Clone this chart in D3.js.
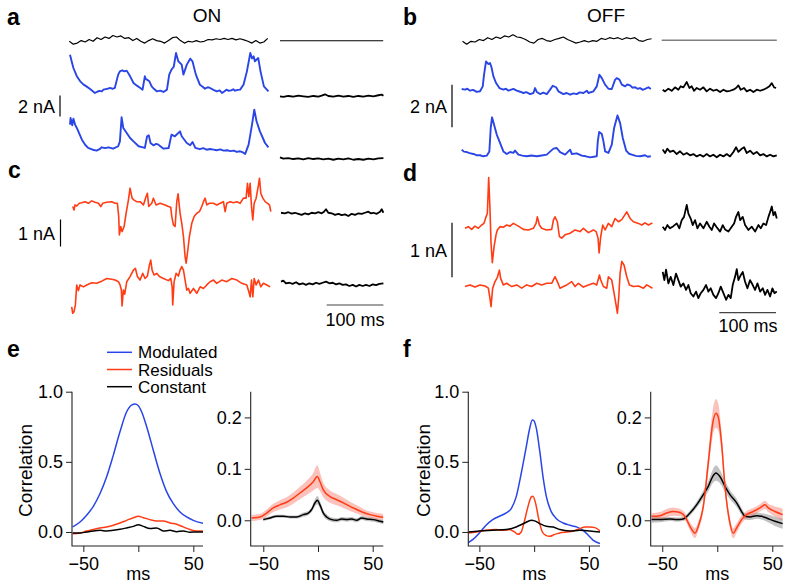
<!DOCTYPE html>
<html><head><meta charset="utf-8">
<script src="https://cdn.jsdelivr.net/npm/d3@7"></script>
<style>body{margin:0;background:#fff}svg{display:block}</style>
</head><body><svg id="c" width="788" height="587"></svg>
<script>
// ---------------- DATA ----------------
// stimulus (arbitrary intensity units), uniformly sampled
const stimA = [0,-0.8,-0.5,0.2,-0.2,0.5,0,1.0,0.5,1.2,0.8,1.6,1.2,1.5,0.8,1.0,0.2,0.8,0,-0.5,0.2,0.7,0.2,0,-0.5,0.2,1.0,1.2,0.2,-0.5,0,-0.2,0.2,-0.2,0,0.5,0.4,0.7,0.5,0.8,0.5,0.8,0.4,0.7,0.4,0,-0.5,0.2,-0.5,-0.2,0.8];
const stimB = [0,-0.8,0,-0.2,0.5,0.2,1.0,0.5,1.2,0.8,1.5,1.2,1.8,1.2,1.0,0.5,-0.2,-0.5,0.5,0.8,0.2,0,0.5,0.8,1.2,0.5,0,-0.5,-0.2,0.2,-0.2,0.2,0,0.8,0.5,1.0,0.7,1.0,0.5,1.0,0.7,1.0,0.2,0,0.5,0.7];
// currents [ms, nA]
const aMod1 = [[0,3.65],[3,3.0],[6,2.38],[12,1.6],[18,1.11],[24,0.8],[29,0.63],[36,0.35],[44,0],[48,0.12],[52,0.2],[56,0.15],[59,0.32],[65,0.4],[71,0.48],[75,0.4],[79,0.48],[85,1.75],[88,2.06],[92,2.16],[96,2.06],[100,2.13],[106,1.59],[112,0.95],[118,0.7],[124,0.48],[128,0.32],[132,1.59],[134,1.3],[136,1.27],[140,1.11],[144,0.63],[148,0.4],[153,0.16],[159,0.22],[165,0.1],[171,0.32],[175,1.75],[179,2.22],[183,2.5],[187,3.81],[191,3.02],[197,2.7],[200,1.75],[206,2.7],[212,3.27],[216,3.02],[222,1.75],[229,0.79],[234,0.6],[238,0.41],[243,0.55],[247,0.48],[253,0.3],[259,0.16],[264,0.25],[268,0],[272,0.15],[276,0.32],[280,0.2],[284,0.25],[288,0.35],[291,0.22],[296,0.3],[300,0.32],[306,0.79],[312,2.06],[318,3.81],[321,3.3],[324,3.49],[326,3.02],[332,3.33],[336,2.06],[342,0.63],[350,0.16]];
const aMod2 = [[0,2.54],[1,3.17],[4,2.48],[6,3.11],[9,2.54],[12,2.22],[21,1.11],[27,0.6],[32,0.32],[40,0.15],[47,0.06],[52,0.2],[56,0.38],[62,0.3],[68,0.38],[76,0.25],[85,0.48],[88,0.95],[91,3.24],[94,2.22],[100,1.75],[106,1.27],[112,0.95],[121,0.48],[127,0.4],[132,0.32],[136,1.43],[139,1.52],[142,0.79],[147,0.57],[152,0.7],[156,0.63],[165,0.25],[174,0.32],[179,1.59],[185,1.43],[194,1.9],[197,1.43],[206,0.79],[212,0.57],[216,0.89],[221,0.32],[229,0.2],[235,0.3],[241,0.15],[247,0.22],[253,0.16],[259,0.1],[265,0.18],[271,0.06],[277,0.1],[283,0.02],[289,0.06],[294,-0.06],[300,0],[305,-0.1],[309,-0.25],[315,0.63],[321,2.54],[325,3.97],[329,2.86],[335,1.9],[344,0.79],[350,0.38]];
const aRes1 = [[0,0],[5.9,-0.06],[14.7,0.03],[23.5,-0.03],[32.4,0.06],[41.2,0],[50,-0.06],[58.8,0.03],[67.6,-0.03],[73.5,0.06],[79.4,0.19],[85.3,0.03],[94.1,-0.03],[102.9,0.06],[111.8,-0.03],[120.6,0.03],[129.4,-0.06],[138.2,0.03],[147.1,-0.03],[155.9,0.06],[164.7,0],[173.5,0.1],[179.4,0.16],[182.4,0.06]];
const aRes2 = [[0,0.13],[5.9,0],[14.7,0.06],[23.5,-0.03],[32.4,0.03],[41.2,-0.06],[50,0.06],[58.8,-0.03],[67.6,0.03],[76.5,-0.06],[85.3,0],[94.1,-0.1],[102.9,0],[111.8,-0.06],[120.6,0.03],[129.4,-0.1],[138.2,-0.03],[147.1,-0.1],[155.9,0],[164.7,-0.06],[173.5,0.03],[182.4,0.06]];
const bMod1 = [[0,0.19],[5.9,0.16],[10,0.2],[14.7,0.11],[20,0.15],[26.5,0.05],[32.4,0.08],[37.1,0.31],[39.4,0.86],[42.9,1.48],[47.1,1.36],[50,1.41],[52.9,1.17],[55.9,0.78],[60.6,0.47],[66.5,0.23],[73.5,0.16],[78,0.2],[82.4,0.11],[91.2,0.19],[97.1,0.11],[103,0.06],[108.8,0],[114,0.04],[120.6,-0.05],[126.5,0],[129.4,0.23],[132.4,0.05],[138.2,-0.05],[144,0.02],[150,-0.05],[155.9,0.16],[160.6,0.34],[166.5,0.27],[170.6,0.08],[179.4,-0.05],[185,0],[191.2,-0.08],[197,-0.02],[202.9,-0.05],[208,0.03],[214.7,0],[220.6,0.11],[223.5,0],[232.4,0.08],[238.2,0.31],[242.9,0.86],[247.1,0.7],[252.9,0.39],[258.8,0.2],[264.7,0.19],[270.6,0.63],[273.5,0.7],[278.2,0.63],[282.4,0.39],[288.2,0.31],[292,0.4],[297.1,0.36],[301,0.25],[305.9,0.27],[310,0.2],[314.7,0.23],[319,0.15],[323.5,0.19],[329.4,0.27],[333.5,0.19]];
const bMod2 = [[0,0.31],[4,0.22],[8.8,0.2],[14,0.15],[20.6,0.11],[26,0.05],[32.4,0.05],[38,0],[44.1,0.03],[48.8,0.23],[51.2,1.33],[53.5,1.83],[57.1,1.48],[61.8,1.02],[67.6,0.63],[73.5,0.23],[79.4,0.11],[85.3,0.2],[91.2,0.16],[94.1,0.27],[100,0.08],[107,0.03],[114.7,0],[123,0.04],[132.4,0],[141,0.04],[150,0.08],[161.8,0.36],[167.6,0.39],[173.5,0.2],[182.4,0.08],[188.2,0.23],[191.2,0.31],[194.1,0.11],[202.9,0.14],[211.8,0.03],[219,0],[226.5,-0.05],[238.2,0],[240,0.7],[242.4,1.14],[247.1,1.05],[250,0.7],[252.9,0.23],[258.8,0.16],[264.7,0.55],[268.8,1.33],[274.7,1.92],[279.4,1.56],[284.1,0.86],[290,0.27],[295,0.12],[300,0.08],[307,0.02],[314.7,0],[323.5,0.05],[328,-0.02],[333.5,0]];
const bRes1 = [[0,0],[4.1,-0.08],[10,0.05],[15.9,-0.05],[21.8,0.11],[27.6,0],[31.8,0.16],[36.5,0.11],[42.4,0.36],[47.1,0.08],[51.2,0.16],[55.3,-0.05],[60,0.08],[65.9,0],[71.8,0.11],[77.6,-0.08],[83.5,0.05],[89.4,-0.05],[95.3,0],[101.2,-0.11],[107.1,0],[112.9,-0.08],[118.8,-0.05],[124.7,0],[129.4,0.08],[133.5,0.2],[137.6,0],[143.5,0.08],[148.2,-0.08],[154.1,0],[160,-0.11],[165.9,0],[171.8,-0.05],[177.6,0],[183.5,0.08],[188.2,0.16],[192.4,0.31],[196.5,0.11],[200,0.08]];
const bRes2 = [[0,0.16],[4.1,0],[8.2,0.2],[12.9,0.05],[18.8,0.11],[24.7,-0.05],[30.6,0.08],[36.5,-0.08],[42.4,0],[48.2,-0.11],[54.1,-0.05],[60,-0.16],[65.9,-0.08],[71.8,-0.17],[77.6,-0.05],[83.5,-0.16],[89.4,-0.08],[95.3,-0.2],[101.2,-0.08],[107.1,-0.16],[112.9,-0.05],[118.8,-0.16],[124.7,0.05],[129.4,0.27],[133.5,0.05],[139.4,0.2],[143.5,0.27],[148.2,0],[154.1,0.11],[160,-0.05],[165.9,0.05],[171.8,-0.11],[177.6,-0.05],[183.5,-0.16],[189.4,-0.08],[195.3,-0.16],[201.2,-0.11]];
const cMod1 = [[1.8,-0.12],[4.1,-0.25],[5.9,-0.06],[8.8,-0.1],[13.5,0],[17.6,0.02],[23.5,0.06],[29.4,0],[35.3,0.09],[41.2,0.04],[47.1,0],[51.2,-0.12],[54.7,0],[61.8,0.04],[70.6,0.06],[76.5,0],[80.6,0],[82.9,-0.49],[84.1,-1.17],[86.5,-0.86],[88.8,-1.05],[92.4,-0.86],[95.9,-0.37],[100,0.12],[102.9,0.56],[106.5,0.19],[110,0.12],[114.7,0.06],[120.6,0.06],[126.5,-0.06],[131.2,0.25],[133.5,0.37],[135.9,-0.12],[141.2,0],[144.1,0.19],[148.8,-0.06],[155.9,0],[164.7,-0.06],[170.6,-0.12],[174.7,-0.15],[176.5,-0.49],[179.4,-0.8],[182.4,-0.86],[185.3,0.06],[187.6,0.35],[191.2,-0.37],[194.1,-0.74],[197.1,-1.23],[200,-1.98],[201.8,-2.22],[204.1,-1.85],[207.6,-1.23],[211.8,-0.74],[215.9,-0.49],[220.6,-0.37],[225.3,-0.31],[229.4,-0.12],[232.4,0.06],[235.3,0.19],[238.2,-0.06],[242.9,0],[250,0],[255.9,-0.06],[261.8,0],[267.6,0.06],[270.6,-0.31],[273.5,0],[279.4,0.06],[285.3,0.02],[291.2,0.06],[297.1,0],[302.9,0.19],[307.6,0.19],[310,0.74],[312.4,0.25],[314.7,0.74],[317.1,-0.12],[319.4,-0.62],[321.8,0],[325.3,0.19],[329.4,0.68],[331.2,0.93],[333.5,0.37],[337.1,0.19],[341.2,0.06],[345.3,0],[348.8,-0.06],[351.2,-0.31]];
const cMod2 = [[0,-0.93],[1.8,-1.17],[4.1,-1.11],[6.5,-0.86],[8.8,-0.12],[11.8,-0.33],[14.7,-0.12],[20.6,-0.19],[26.5,-0.12],[35.3,-0.04],[44.1,-0.06],[52.9,0.02],[61.8,0.12],[70.6,0.09],[76.5,0.06],[82.4,0],[85.3,-0.12],[87.6,-0.31],[88.8,-0.9],[91.2,-0.31],[93.5,-0.46],[97.1,0],[102.9,0.19],[108.8,0.43],[112.4,0.49],[115.9,0.19],[120.6,0.06],[125.3,0.31],[129.4,0.12],[133.5,0.21],[137.1,0.62],[139.4,0.8],[141.8,0.43],[145.3,0.25],[150,0.31],[154.7,0.19],[161.8,0.12],[170.6,0.04],[174.7,0.12],[177.1,-0.19],[178.2,-0.86],[180.6,0],[184.1,0.31],[188.2,0.21],[191.2,0.43],[194.1,0.56],[197.1,0.43],[200,0.06],[202.9,-0.31],[205.9,-0.25],[208.8,-0.43],[214.7,-0.25],[220.6,-0.43],[226.5,-0.19],[232.4,-0.25],[238.2,-0.12],[244.1,0],[250,0.06],[255.9,-0.06],[264.7,0.06],[273.5,0],[282.4,0.12],[291.2,0.06],[300,-0.06],[308.8,-0.12],[312.4,-0.37],[314.7,-0.56],[317.1,0.06],[319.4,-0.56],[321.8,0.12],[325.3,-0.12],[329.4,0.06],[333.5,-0.19],[338.2,-0.06],[344.1,-0.12],[350,-0.19]];
const cRes1 = [[0,0.02],[7.1,0],[12.9,0.04],[18.8,-0.01],[24.7,0.02],[30.6,-0.02],[36.5,-0.06],[42.4,0],[48.2,-0.04],[54.1,0.02],[60,0],[65.9,0.04],[71.8,0],[75.9,0.06],[79.4,0.15],[83.5,0.02],[89.4,0],[95.3,-0.06],[101.2,-0.02],[107.1,-0.07],[112.9,-0.04],[118.8,-0.1],[124.7,-0.02],[130.6,-0.06],[136.5,0],[142.4,-0.02],[148.2,0.02],[154.1,0.06],[158.2,0],[162.9,0.02],[168.8,-0.02],[174.7,0.06],[177.6,0.15],[180.6,0.02]];
const cRes2 = [[0,0.06],[4.1,0.1],[8.8,0],[14.7,0.02],[20.6,-0.02],[26.5,0.04],[32.4,-0.04],[38.2,0],[44.1,-0.06],[50,0],[55.9,-0.04],[61.8,0.02],[67.6,-0.02],[73.5,0.02],[79.4,0.06],[85.3,0],[91.2,0.02],[97.1,-0.04],[102.9,0],[108.8,-0.06],[114.7,-0.04],[120.6,-0.1],[126.5,-0.06],[132.4,-0.12],[138.2,-0.06],[144.1,-0.1],[150,-0.06],[155.9,-0.1],[161.8,-0.04],[167.6,-0.07],[173.5,-0.02],[180.6,0]];
const dMod1 = [[0,0],[5.9,0.03],[11.8,-0.02],[17.6,0.04],[23.5,0],[29.4,0.06],[33.5,0.09],[37.1,0.21],[39.4,0.27],[41.8,0.93],[44.1,0.34],[45.9,-0.27],[48.2,-0.63],[51.2,-0.34],[54.7,-0.12],[57.1,-0.03],[61.8,0.03],[67.6,0.02],[73.5,0.06],[79.4,0.04],[85.3,0.09],[94.1,0.04],[102.9,-0.02],[111.8,-0.03],[120.6,0],[125.3,0.09],[127.6,0.21],[131.2,0.06],[135.3,0],[143.8,-0.03],[152.9,-0.02],[155.9,0.15],[158.8,0.21],[162.9,0.12],[166.5,-0.15],[170.6,-0.18],[176.5,-0.12],[185.3,-0.09],[194.1,-0.03],[202.9,-0.06],[208.8,0],[217.6,-0.08],[226.5,-0.03],[231.2,-0.06],[234.7,-0.18],[236.5,-0.45],[239.4,-0.15],[242.9,0.06],[247.1,-0.03],[252.9,0.09],[258.8,0.03],[264.7,0.18],[270.6,0.12],[276.5,0.16],[285.3,0.3],[291.2,0.18],[297.1,0.12],[305.9,0.09],[311.8,0.06],[317.6,0.1],[323.5,0.06],[330.6,0.1]];
const dMod2 = [[0,-0.01],[8.8,0.02],[17.6,-0.02],[26.5,0.02],[35.3,0],[41.2,-0.04],[44.1,-0.23],[45.9,-0.38],[48.8,-0.04],[52.9,0.08],[57.1,0.16],[60.6,0.29],[62.9,0.14],[67.6,0.02],[73.5,0.05],[82.4,-0.01],[91.2,0.02],[100,-0.04],[108.8,0.02],[117.6,-0.01],[126.5,0.05],[135.3,0.02],[144.1,0.05],[152.9,0.05],[158.8,0.17],[162.9,0.08],[167.6,-0.04],[173.5,-0.01],[179.4,0.02],[188.2,0.08],[194.1,-0.01],[200,0.05],[208.8,-0.02],[217.6,0.02],[226.5,0.05],[232.4,0.02],[237.1,0.2],[239.4,0.11],[244.1,-0.01],[250,-0.04],[252.9,0.17],[258.8,0.11],[262.9,-0.13],[266.5,-0.35],[268.8,-0.5],[271.2,-0.2],[273.5,0.23],[276.5,0.45],[280.6,0.38],[285.3,0.17],[290,0.02],[297.1,-0.01],[305.9,0],[314.7,-0.04],[320.6,0.02],[330.6,-0.04]];
const dRes1 = [[0,0],[4.1,-0.06],[8.2,0.03],[12.9,-0.03],[18.8,0.01],[24.7,0.06],[29.4,-0.03],[33.5,0.12],[37.6,0.18],[42.4,0.4],[45.3,0.24],[49.4,0.15],[52.9,0.03],[57.1,0.12],[61.2,-0.03],[65.9,0.06],[71.8,-0.03],[77.6,0.09],[82.4,0],[86.5,-0.06],[90.6,0.06],[95.3,-0.01],[101.2,-0.09],[105.9,0.03],[110,-0.05],[115.9,-0.09],[121.8,0],[125.9,0.06],[129.4,0.18],[133.5,0.27],[136.5,0.12],[141.2,0.18],[145.3,0.03],[151.2,-0.06],[157.1,0],[163,-0.09],[168.8,0.03],[172.9,-0.03],[177.6,0.06],[182.4,0.03],[186.5,0.18],[189.4,0.27],[192.4,0.37],[195.3,0.21],[198.2,0.27],[201.2,0.15]];
const dRes2 = [[0,0.3],[2.9,0.15],[5.9,0.34],[10,0.09],[14.1,0.21],[18.8,0.06],[23.5,0.27],[27.6,0.15],[31.8,0.03],[36.5,0.09],[41.2,-0.03],[45.3,0.06],[49.4,-0.09],[54.1,-0.15],[58.8,-0.06],[62.9,-0.18],[67.1,-0.09],[71.8,-0.03],[76.5,0.06],[80.6,-0.06],[84.7,0],[89.4,-0.12],[94.1,-0.18],[98.2,-0.09],[102.4,0.03],[107.1,-0.09],[111.8,-0.21],[115.9,-0.12],[120,-0.18],[123.5,0.06],[127.6,0.21],[130.6,0.35],[133.5,0.15],[137.6,0.24],[141.2,0.3],[145.3,0.12],[149.4,0],[154.1,0.15],[158.8,0.06],[162.9,-0.03],[167.1,0.09],[171.8,-0.06],[176.5,0],[180.6,-0.12],[184.7,-0.03],[189.4,-0.15],[193.5,0],[197.1,-0.09],[201.2,-0.06]];

// correlations: lag (ms) and value
const eModLag = [-59.7,-53,-47,-40.9,-34.8,-28.8,-22.7,-16.7,-10.6,-6.1,-3,0,3,7.6,13.6,19.7,25.8,31.8,37.9,43.9,50,59.7];
const eModVal = [0.036,0.071,0.119,0.183,0.274,0.393,0.548,0.714,0.857,0.905,0.912,0.9,0.857,0.75,0.583,0.417,0.286,0.202,0.143,0.107,0.083,0.06];
const eResLag = [-59.7,-53,-47,-40.9,-34.8,-28.8,-22.7,-16.7,-10.6,-4.5,0,4.5,10.6,16.7,22.7,28.8,34.8,40.9,47,53,59.7];
const eResVal = [-0.012,-0.007,0.007,0.017,0.029,0.036,0.048,0.064,0.083,0.102,0.112,0.102,0.088,0.079,0.079,0.064,0.055,0.036,0.017,0.007,0.007];
const eConVal = [-0.007,-0.007,0,0.007,0.012,0.007,0.012,0.019,0.029,0.04,0.052,0.04,0.024,0.029,0.007,0.012,0.002,0.007,-0.002,0,0];
const eResZLag = [-60.7,-53,-47,-40.9,-34.8,-28.7,-22.6,-16.5,-10.4,-4.3,-0.6,1.8,4.9,11,17.1,23.2,29.3,35.4,41.5,47.6,53.7,59.8];
const eResZVal = [0.0045,0.0065,0.014,0.024,0.03,0.035,0.043,0.053,0.063,0.075,0.085,0.075,0.059,0.046,0.04,0.034,0.027,0.021,0.015,0.011,0.008,0.006];
const eResZSem = [0.006,0.006,0.007,0.008,0.009,0.01,0.011,0.012,0.014,0.017,0.022,0.018,0.014,0.012,0.011,0.01,0.009,0.008,0.007,0.006,0.006,0.006];
const eConZLag = [-50,-43.9,-37.8,-31.7,-25.6,-19.5,-13.4,-8.8,-5.8,-2.7,-0.6,1.8,4.9,7.9,12.5,17.1,21.6,26.2,30.8,35.4,39.9,44.5,50.6,56.7,61.3];
const eConZVal = [0.0013,0.0045,0.0077,0.0077,0.0065,0.0065,0.011,0.014,0.021,0.034,0.039,0.03,0.014,0.0065,0.0013,0,0.0026,0.0013,0.0026,0,0.0045,0.0026,0.0013,-0.0019,-0.0039];
const eConZSem = [0.003,0.003,0.003,0.003,0.003,0.003,0.004,0.004,0.005,0.007,0.008,0.007,0.006,0.005,0.004,0.004,0.004,0.004,0.004,0.004,0.004,0.004,0.004,0.004,0.004];
const fModLag = [-60.7,-56.1,-50,-43.9,-37.8,-31.7,-25.5,-20.9,-16.4,-11.8,-7.2,-4.1,-1.7,-0.2,2,5,8.1,11.2,15.7,20.3,26.5,32.6,38.7,44.8,49.4,54,60.1];
const fModVal = [-0.079,-0.055,-0.007,0.048,0.088,0.112,0.136,0.167,0.25,0.417,0.607,0.738,0.798,0.793,0.738,0.583,0.393,0.25,0.143,0.095,0.064,0.048,0.036,0.012,-0.024,-0.06,-0.083];
const fResLag = [-60.7,-53,-43.9,-34.7,-28.6,-22.5,-17.9,-14.8,-11.8,-8.7,-5.7,-2.6,-1.1,1.4,4.4,7.5,10.6,14.2,18.8,23.4,29.5,35.6,41.7,46.3,50.9,55.5,60.1];
const fResVal = [-0.007,0,0.012,0.017,0.012,0.017,0,-0.017,0,0.083,0.179,0.25,0.255,0.202,0.083,0,-0.024,-0.031,-0.017,-0.007,0,0.007,0.024,0.036,0.036,0.031,0.007];
const fConLag = [-60.7,-50,-37.8,-25.5,-16.4,-8.7,-2.6,0.5,5,11.2,17.3,23.4,32.6,41.7,50.9,60.1];
const fConVal = [0,0.007,0.012,0.017,0.036,0.064,0.083,0.079,0.06,0.04,0.036,0.017,0.007,0.012,0.007,0];
const fResZLag = [-59.7,-52.1,-46.1,-40,-33.9,-29.4,-24.8,-20.3,-17.3,-12.7,-8.2,-4.2,-1.2,0.9,3.9,7,10.9,14.5,17.6,22.1,26.7,32.7,38.8,43.3,46.4,52.4,59.4];
const fResZVal = [0.0077,0.009,0.014,0.017,0.015,0.0077,-0.012,-0.025,-0.012,0.027,0.111,0.188,0.208,0.201,0.15,0.066,0.0013,-0.025,-0.015,0.0013,0.011,0.017,0.024,0.03,0.024,0.017,0.011];
const fResZSem = [0.006,0.007,0.008,0.008,0.007,0.007,0.008,0.01,0.009,0.01,0.018,0.025,0.028,0.026,0.02,0.012,0.01,0.01,0.009,0.008,0.007,0.007,0.007,0.008,0.008,0.01,0.012];
const fConZLag = [-59.7,-52.1,-43,-37,-30.9,-24.8,-18.8,-12.7,-8.2,-4.2,-1.2,2.4,7,11.5,17.6,22.1,25.2,29.7,35.8,40.3,44.8,52.4,59.4];
const fConZVal = [0.0013,0.0013,0.0026,0.0013,0.0026,0.014,0.03,0.05,0.066,0.085,0.092,0.085,0.066,0.05,0.034,0.017,0.0077,0.0065,0.009,0.0077,0.0045,-0.0019,-0.0065];
const fConZSem = [0.006,0.005,0.004,0.004,0.004,0.005,0.006,0.008,0.01,0.013,0.015,0.013,0.011,0.009,0.008,0.007,0.006,0.006,0.006,0.006,0.007,0.009,0.01];

const legendLabels = ["Modulated","Residuals","Constant"];
const xTicks = [-50,0,50];
const yTicksBig = [0,0.5,1.0];
const yTicksSmall = [0,0.1,0.2];

// ---------------- DRAWING ----------------
const FONT = "'Liberation Sans', Arial, Helvetica, sans-serif";
const BLUE = "#2a45e6", RED = "#ff3c14", BLACK = "#000";
const svg = d3.select("#c");
const MS100 = 56.7; // px per 100 ms

function trace(data, x0, yBase, pxPerUnit, color, w) {
  const x = d3.scaleLinear().domain([0, 100]).range([x0, x0 + MS100]);
  const y = d3.scaleLinear().domain([0, 1]).range([yBase, yBase - pxPerUnit]);
  svg.append("path").datum(data)
    .attr("d", d3.line().x(d => x(d[0])).y(d => y(d[1])))
    .attr("fill", "none").attr("stroke", color).attr("stroke-width", w)
    .attr("stroke-linejoin", "round");
  return {x, y};
}
function stim(vals, stepMs, x0, yBase) {
  return trace(vals.map((v, i) => [i * stepMs, v]), x0, yBase, 3.6, BLACK, 1.2);
}
function txt(x, y, s, opt = {}) {
  return svg.append("text").attr("x", x).attr("y", y).text(s)
    .attr("font-family", FONT).attr("font-size", opt.size || 18)
    .attr("font-weight", opt.bold ? "bold" : "normal")
    .attr("text-anchor", opt.anchor || "start")
    .attr("fill", opt.fill || "#000");
}
function vbar(sc, x, nA) {
  svg.append("line").attr("x1", x).attr("x2", x).attr("y1", sc.y(0)).attr("y2", sc.y(nA))
    .attr("stroke", "#000").attr("stroke-width", 1.2);
}
function hbar(sc, y, ms) {
  svg.append("line").attr("x1", sc.x(0)).attr("x2", sc.x(ms)).attr("y1", y).attr("y2", y)
    .attr("stroke", "#444").attr("stroke-width", 1.2);
}

// panel labels & titles
txt(7, 25, "a", {bold: true, size: 23});
txt(403, 25, "b", {bold: true, size: 23});
txt(8, 178, "c", {bold: true, size: 23});
txt(403, 181, "d", {bold: true, size: 23});
txt(7, 357, "e", {bold: true, size: 23});
txt(403, 357, "f", {bold: true, size: 23});
txt(207, 22, "ON", {anchor: "middle", size: 19});
txt(606, 22, "OFF", {anchor: "middle", size: 19});

// ---- a ----
stim(stimA, 7, 69.3, 41.3);
trace([[0, 0], [182, 0]], 280, 40.7, 10.5, BLACK, 1.1);
trace(aMod1, 70, 93, 10.5, BLUE, 1.9);
trace(aMod2, 70, 151.3, 10.5, BLUE, 1.9);
trace(aRes1, 280, 96.3, 10.5, BLACK, 1.8);
trace(aRes2, 280, 158.7, 10.5, BLACK, 1.8);
vbar(trace([], 60, 116.5, 10.5, "none", 0), 60, 2);
txt(55, 113, "2 nA", {anchor: "end"});

// ---- b ----
stim(stimB, 7.41, 462.5, 41.3);
trace([[0, 0], [203, 0]], 661.7, 40.3, 21.3, "#808080", 1.6);
trace(bMod1, 461.7, 93, 21.3, BLUE, 1.9);
trace(bMod2, 461.7, 156.3, 21.3, BLUE, 1.9);
trace(bRes1, 662.7, 89.7, 21.3, BLACK, 1.8);
trace(bRes2, 662.7, 153, 21.3, BLACK, 1.8);
vbar(trace([], 452, 127.3, 21.3, "none", 0), 452, 2);
txt(447, 113, "2 nA", {anchor: "end"});

// ---- c ----
trace(cMod1, 71.7, 203.3, 27, RED, 1.6);
trace(cMod2, 71.7, 281.7, 27, RED, 1.6);
trace(cRes1, 281, 213.3, 27, BLACK, 1.8);
trace(cRes2, 281, 283.3, 27, BLACK, 1.8);
vbar(trace([], 60.5, 246.5, 27, "none", 0), 60.5, 1);
txt(55, 240, "1 nA", {anchor: "end"});
hbar(trace([], 326.7, 0, 1, "none", 0), 305, 100);
txt(355, 326, "100 ms", {anchor: "middle"});

// ---- d ----
trace(dMod1, 465, 228.3, 54.6, RED, 1.6);
trace(dMod2, 465, 286, 54.6, RED, 1.6);
trace(dRes1, 662.7, 226.7, 54.6, BLACK, 1.8);
trace(dRes2, 662.7, 288.3, 54.6, BLACK, 1.8);
vbar(trace([], 452, 277.3, 54.6, "none", 0), 452, 1);
txt(447, 257, "1 nA", {anchor: "end"});
hbar(trace([], 719.3, 0, 1, "none", 0), 312.7, 100);
txt(748, 332, "100 ms", {anchor: "middle"});

// ---- correlation plots ----
let clipId = 0;
function corrPlot(cfg) {
  const x = d3.scaleLinear().domain(cfg.xd).range(cfg.xr);
  const y = d3.scaleLinear().domain(cfg.yd).range([546, 391.7]);
  const g = svg.append("g");
  const id = "clip" + (clipId++);
  svg.append("clipPath").attr("id", id).append("rect")
    .attr("x", cfg.xr[0]).attr("y", 380).attr("width", cfg.xr[1] - cfg.xr[0]).attr("height", 166);
  const plot = g.append("g").attr("clip-path", `url(#${id})`);
  (cfg.bands || []).forEach(b => {
    const d = b.lag.map((l, i) => [l, b.val[i], b.sem[i]]);
    plot.append("path").datum(d)
      .attr("d", d3.area().x(p => x(p[0])).y0(p => y(p[1] - p[2])).y1(p => y(p[1] + p[2])).curve(d3.curveMonotoneX))
      .attr("fill", b.fill).attr("stroke", "none");
  });
  cfg.lines.forEach(l => {
    const d = l.lag.map((t, i) => [t, l.val[i]]);
    plot.append("path").datum(d)
      .attr("d", d3.line().x(p => x(p[0])).y(p => y(p[1])).curve(d3.curveMonotoneX))
      .attr("fill", "none").attr("stroke", l.color).attr("stroke-width", l.w || 1.5);
  });
  const ax = g.append("g").attr("transform", `translate(0,546)`)
    .call(d3.axisBottom(x).tickValues(xTicks).tickSize(6).tickPadding(5)
      .tickFormat(d => d === 0 ? "" : (d < 0 ? "\u2212" + Math.abs(d) : d)));
  const ay = g.append("g").attr("transform", `translate(${cfg.xr[0]},0)`)
    .call(d3.axisLeft(y).tickValues(cfg.yt).tickSize(6).tickPadding(3).tickFormat(d3.format(".1f")));
  [ax, ay].forEach(a => {
    a.select(".domain").remove();
    a.selectAll("line").attr("stroke", "#222");
    a.selectAll("text").attr("font-family", FONT).attr("font-size", 18).attr("fill", "#000");
  });
  g.append("path").attr("d", `M${cfg.xr[0]},391.7V546H${cfg.xr[1]}`)
    .attr("fill", "none").attr("stroke", "#222").attr("stroke-width", 1.1);
  txt(x(0), 580, "ms", {anchor: "middle"});
  if (cfg.ylabel) {
    svg.append("text").attr("transform", `translate(${cfg.ylabelX},470.5) rotate(-90)`)
      .attr("text-anchor", "middle").attr("font-family", FONT).attr("font-size", 19).text("Correlation");
  }
}

corrPlot({xd: [-60.3, 58.8], xr: [72, 203], yd: [-0.1, 1.0], yt: yTicksBig, ylabel: true, ylabelX: 32,
  lines: [{lag: eModLag, val: eModVal, color: BLUE}, {lag: eResLag, val: eResVal, color: RED}, {lag: eResLag, val: eConVal, color: BLACK}]});
corrPlot({xd: [-61.5, 59.7], xr: [250.7, 383.3], yd: [-0.05, 0.25], yt: yTicksSmall,
  bands: [{lag: eConZLag, val: eConZVal, sem: eConZSem, fill: "rgba(120,120,120,0.45)"},
          {lag: eResZLag, val: eResZVal, sem: eResZSem, fill: "rgba(245,120,105,0.45)"}],
  lines: [{lag: eConZLag, val: eConZVal, color: BLACK}, {lag: eResZLag, val: eResZVal, color: RED}]});
corrPlot({xd: [-60.1, 60.1], xr: [468.3, 600], yd: [-0.1, 1.0], yt: yTicksBig, ylabel: true, ylabelX: 430,
  lines: [{lag: fModLag, val: fModVal, color: BLUE}, {lag: fResLag, val: fResVal, color: RED}, {lag: fConLag, val: fConVal, color: BLACK}]});
corrPlot({xd: [-60.5, 60], xr: [650.7, 783.3], yd: [-0.05, 0.25], yt: yTicksSmall,
  bands: [{lag: fConZLag, val: fConZVal, sem: fConZSem, fill: "rgba(120,120,120,0.45)"},
          {lag: fResZLag, val: fResZVal, sem: fResZSem, fill: "rgba(245,120,105,0.45)"}],
  lines: [{lag: fConZLag, val: fConZVal, color: BLACK}, {lag: fResZLag, val: fResZVal, color: RED}]});

// legend
const legColors = [BLUE, RED, BLACK];
const legY = d3.scalePoint().domain(legendLabels).range([352.3, 386.7]);
legendLabels.forEach((l, i) => {
  svg.append("line").attr("x1", 107).attr("x2", 132).attr("y1", legY(l)).attr("y2", legY(l))
    .attr("stroke", legColors[i]).attr("stroke-width", 1.5);
  txt(138, legY(l) + 6, l, {size: 17});
});
</script></body></html>
